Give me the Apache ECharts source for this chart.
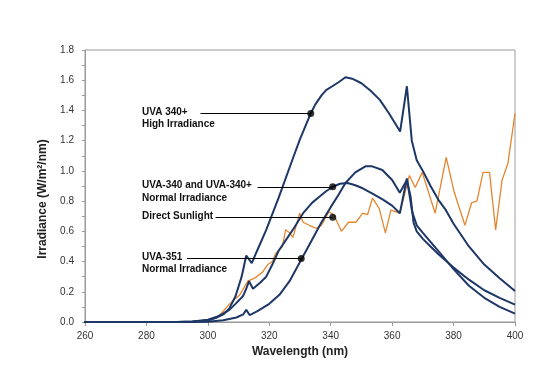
<!DOCTYPE html>
<html>
<head>
<meta charset="utf-8">
<script src="https://cdn.jsdelivr.net/npm/echarts@6/dist/echarts.min.js"></script>
<style>
  html, body { margin: 0; padding: 0; background: #fff; }
  #chart { width: 552px; height: 377px; }
</style>
</head>
<body>
<div id="chart"></div>
<script>
// UVA 340+ high irradiance
const highX = [250, 290, 295, 300, 303, 305, 307, 309, 311, 312.5, 314.3, 316, 319, 323, 328, 330, 333.5, 335, 337, 338.5, 340.5, 342.8, 344.8, 347, 350, 353, 356, 359, 362.6, 364.8, 366.4, 368, 370, 372.5, 375, 377.5, 380, 385, 390, 395, 400]
const highY = [0, 0, 0.004, 0.01, 0.03, 0.05, 0.09, 0.17, 0.3, 0.44, 0.39, 0.47, 0.61, 0.82, 1.1, 1.21, 1.38, 1.44, 1.5, 1.535, 1.56, 1.59, 1.62, 1.61, 1.58, 1.53, 1.47, 1.38, 1.26, 1.56, 1.2, 1.07, 1.0, 0.9, 0.81, 0.74, 0.65, 0.5, 0.38, 0.29, 0.205]
// UVA-340 and UVA-340+ normal irradiance
const normX = [250, 290, 295, 300, 303, 305, 307, 309, 311.4, 312.5, 313.4, 314.7, 317, 319, 321, 323, 325, 328, 331, 334, 336.4, 338.5, 340.7, 343, 345.5, 348, 350.4, 353.6, 357, 360, 362.5, 364.8, 366.5, 368, 370, 372.5, 375, 380, 385, 390, 395, 400]
const normY = [0, 0, 0.004, 0.015, 0.035, 0.055, 0.08, 0.12, 0.17, 0.22, 0.27, 0.22, 0.26, 0.3, 0.38, 0.47, 0.53, 0.62, 0.72, 0.79, 0.83, 0.865, 0.895, 0.915, 0.92, 0.905, 0.885, 0.85, 0.81, 0.77, 0.72, 0.95, 0.73, 0.64, 0.59, 0.53, 0.47, 0.35, 0.24, 0.16, 0.1, 0.055]
// UVA-351 normal irradiance
const uva351X = [250, 290, 295, 300, 305, 309.3, 311.5, 312.5, 313.6, 316, 320, 323.3, 326.6, 330.6, 333, 337, 340, 342.5, 344.8, 348, 351.3, 353.5, 356.8, 360, 362.5, 364.8, 366, 367, 368, 370, 372.5, 375, 380, 385, 390, 395, 400]
const uva351Y = [0, 0, 0, 0.002, 0.012, 0.03, 0.05, 0.08, 0.046, 0.07, 0.12, 0.18, 0.27, 0.42, 0.51, 0.66, 0.76, 0.84, 0.92, 0.99, 1.03, 1.03, 1.006, 0.94, 0.855, 0.94, 0.83, 0.655, 0.6, 0.55, 0.5, 0.45, 0.36, 0.28, 0.21, 0.16, 0.115]
// direct sunlight
const sunX = [250, 290, 295, 300, 303.6, 307.1, 310.4, 313, 315.2, 317.8, 319.5, 321, 322, 323.3, 324.3, 325.3, 326.6, 327.7, 329.9, 331, 333, 335.3, 337, 339.4, 341, 343.5, 345.8, 348.2, 350.4, 352, 353.6, 355.8, 357.8, 359.6, 362.5, 365.6, 367.5, 369.8, 374, 377.6, 380.2, 383.7, 385.9, 387.6, 389.6, 391.7, 393.7, 395.8, 397.7, 400]
const sunY = [0, 0, 0.004, 0.012, 0.04, 0.12, 0.18, 0.27, 0.29, 0.33, 0.38, 0.4, 0.45, 0.48, 0.5, 0.61, 0.59, 0.56, 0.72, 0.66, 0.64, 0.62, 0.64, 0.73, 0.71, 0.6, 0.66, 0.66, 0.72, 0.71, 0.82, 0.75, 0.59, 0.74, 0.72, 0.97, 0.89, 0.99, 0.72, 1.09, 0.86, 0.64, 0.79, 0.8, 0.99, 0.99, 0.61, 0.94, 1.05, 1.38]

// callouts: dot on the curve, leader line starts at lineStartX
const calloutDotX = [333.5, 340.65, 340.65, 330.4]
const calloutDotY = [1.38, 0.895, 0.693, 0.42]
const calloutLineStartX = [297.6, 316.2, 302.5, 293.2]
const calloutText = [
  ['UVA 340+', 'High Irradiance'],
  ['UVA-340 and UVA-340+', 'Normal Irradiance'],
  ['Direct Sunlight'],
  ['UVA-351', 'Normal Irradiance'],
]
// pixel centre of first text line, left edge x = 142
const calloutTextTop = [113.3, 186.7, 217.3, 258.3]

const xTicks = { min: 260, max: 400, step: 20 }
const yTicks = { min: 0, max: 1.8, step: 0.2 }
// the baseline runs on a little past the left axis
const baseStartX = 250

const navy = '#1d3767'
const orange = '#e5862f'
const pairs = (xs, ys) => xs.map((x, i) => [x, ys[i]])

function curve(name, xs, ys, color, width) {
  return {
    name,
    type: 'line',
    data: pairs(xs, ys),
    showSymbol: false,
    clip: false,
    lineStyle: { color, width },
    z: 3,
  }
}

const texts = []
calloutText.forEach((lines, i) => {
  lines.forEach((t, j) => {
    texts.push({
      type: 'text',
      left: 142,
      top: calloutTextTop[i] + j * 12.4 - 6,
      style: {
        text: t,
        font: 'bold 10px "Liberation Sans", Arial, sans-serif',
        fill: '#111',
      },
    })
  })
})
texts.push({
  type: 'text',
  x: 43,
  y: 199,
  rotation: Math.PI / 2,
  style: {
    text: 'Irradiance (W/m²/nm)',
    x: 0,
    y: 0,
    align: 'center',
    verticalAlign: 'middle',
    font: 'bold 12px "Liberation Sans", Arial, sans-serif',
    fill: '#222',
  },
})

const axisGray = '#9a9a9a'
const option = {
  animation: false,
  backgroundColor: '#fff',
  grid: {
    left: 85,
    right: 37,
    top: 50,
    bottom: 55,
    show: true,
    borderColor: axisGray,
    borderWidth: 1,
  },
  xAxis: {
    type: 'value',
    min: xTicks.min,
    max: xTicks.max,
    interval: xTicks.step,
    name: 'Wavelength (nm)',
    nameLocation: 'middle',
    nameGap: 23,
    nameTextStyle: {
      fontFamily: '"Liberation Sans", Arial, sans-serif',
      fontWeight: 'bold',
      fontSize: 12,
      color: '#222',
    },
    axisLine: { lineStyle: { color: axisGray } },
    axisTick: { show: true, length: 4, lineStyle: { color: axisGray } },
    axisLabel: {
      margin: 9,
      fontSize: 10,
      fontFamily: '"Liberation Sans", Arial, sans-serif',
      color: '#333',
    },
    splitLine: { show: false },
  },
  yAxis: {
    type: 'value',
    min: yTicks.min,
    max: yTicks.max,
    interval: yTicks.step,
    axisLine: { show: true, lineStyle: { color: axisGray } },
    axisTick: { show: true, length: 3, lineStyle: { color: axisGray } },
    minorTick: { show: true, splitNumber: 2, length: 3, lineStyle: { color: axisGray } },
    axisLabel: {
      margin: 11,
      fontSize: 10,
      fontFamily: '"Liberation Sans", Arial, sans-serif',
      color: '#333',
      formatter: (v) => v.toFixed(1),
    },
    splitLine: { show: false },
  },
  graphic: texts,
  series: [
    curve('Direct Sunlight', sunX, sunY, orange, 1.3),
    curve('UVA-351', uva351X, uva351Y, navy, 2),
    curve('UVA-340', normX, normY, navy, 2),
    curve('UVA 340+ High', highX, highY, navy, 2),
    {
      name: 'callouts',
      type: 'scatter',
      data: pairs(calloutDotX, calloutDotY),
      symbolSize: 7,
      itemStyle: { color: '#000' },
      z: 5,
      markLine: {
        silent: true,
        symbol: ['none', 'none'],
        label: { show: false },
        lineStyle: { color: '#000', width: 1.2, type: 'solid' },
        data: calloutDotX.map((x, i) => [
          { coord: [calloutLineStartX[i], calloutDotY[i]] },
          { coord: [x, calloutDotY[i]] },
        ]).concat([[
          { coord: [baseStartX, 0], lineStyle: { color: navy, width: 2 } },
          { coord: [xTicks.min + 5, 0] },
        ]]),
      },
    },
  ],
}

const myChart = echarts.init(document.getElementById('chart'))
myChart.setOption(option)
</script>
</body>
</html>
